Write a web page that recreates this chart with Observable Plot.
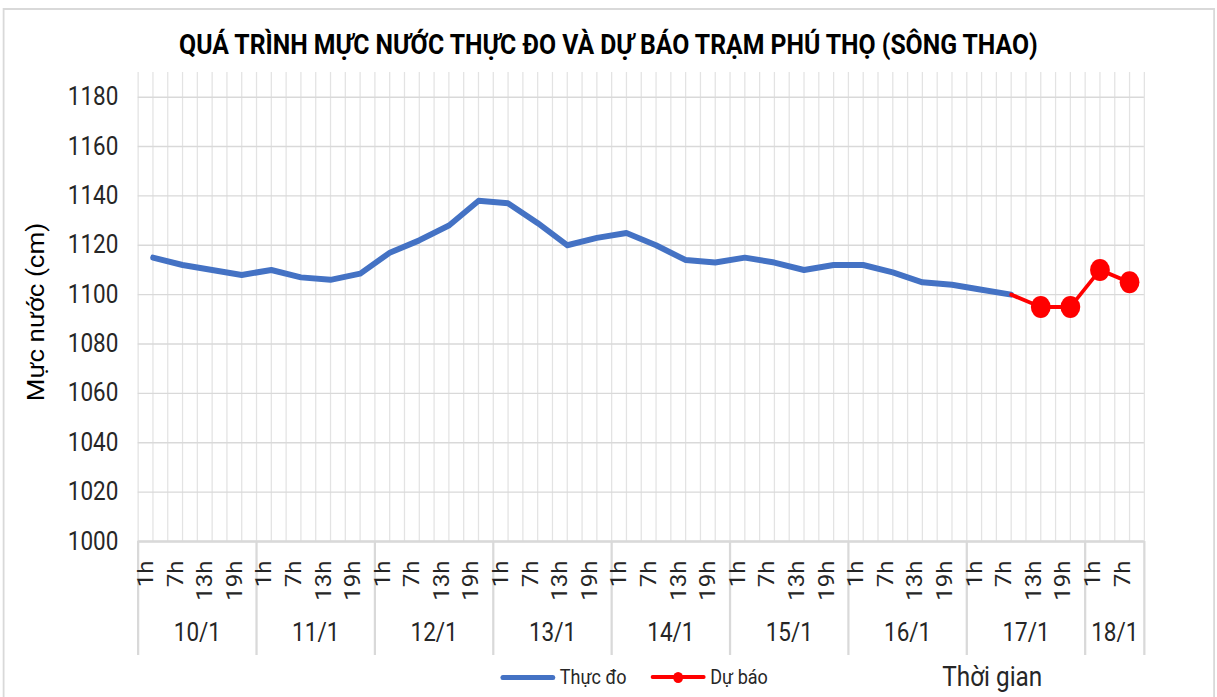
<!DOCTYPE html>
<html>
<head>
<meta charset="utf-8">
<script src="https://cdn.jsdelivr.net/npm/d3@7"></script>
<script src="https://cdn.jsdelivr.net/npm/@observablehq/plot@0.6"></script>
<style>
html, body { margin: 0; padding: 0; background: #fff; overflow: hidden; }
#wrap { position: relative; width: 1352px; height: 697px; transform: scaleX(0.9); transform-origin: 0 0;
        font-family: Roboto, "Liberation Sans", sans-serif; color: #262626; }
#frame { position: absolute; left: 3px; top: 8px; right: 2px; bottom: -10px; border: 2px solid #d9d9d9; }
#title { position: absolute; left: 0; width: 100%; top: 29px; text-align: center; font-weight: bold;
         font-size: 27.5px; line-height: 32px; color: #000; }
#chart { position: absolute; left: 0; top: 0; }
#legend { position: absolute; left: 556px; top: 664px; height: 26px; display: flex; align-items: center; font-size: 20px; }
.sw { position: relative; width: 61px; height: 5px; border-radius: 3px; margin-right: 5px; }
.sw .dot { position: absolute; left: 25px; top: -3px; width: 11px; height: 11px; border-radius: 50%; background: #ff0000; }
#xtitle { position: absolute; left: 1047px; top: 664px; font-size: 27px; line-height: 27px; }
</style>
</head>
<body>
<div id="wrap">
  <div id="frame"></div>
  <div id="title"></div>
  <div id="chart"></div>
  <div id="legend"></div>
  <div id="xtitle"></div>
</div>
<script>
// ---- data ----
const titleText = "QUÁ TRÌNH MỰC NƯỚC THỰC ĐO VÀ DỰ BÁO TRẠM PHÚ THỌ (SÔNG THAO)";
const yLabel = "Mực nước (cm)";
const xLabel = "Thời gian";
const seriesNames = ["Thực đo", "Dự báo"];
const days = ["10/1", "11/1", "12/1", "13/1", "14/1", "15/1", "16/1", "17/1", "18/1"];
const hours = ["1h", "7h", "13h", "19h"];
const slotsPerDay = [4, 4, 4, 4, 4, 4, 4, 4, 2];
const observed = [1115, 1112, 1110, 1108,
                  1110, 1107, 1106, 1108.5,
                  1117, 1122, 1128, 1138,
                  1137, 1129, 1120, 1123,
                  1125, 1120, 1114, 1113,
                  1115, 1113, 1110, 1112,
                  1112, 1109, 1105, 1104,
                  1102, 1100];
const forecast = [1100, 1095, 1095, 1110, 1105];
const yTicks = [1000, 1020, 1040, 1060, 1080, 1100, 1120, 1140, 1160, 1180];
const yMax = 1190;

// ---- derived tables ----
const slots = days.flatMap((d, di) => hours.slice(0, slotsPerDay[di]).map(h => ({day: d, hour: h})));
slots.forEach((s, i) => s.i = i);
const obsData = observed.map((v, i) => ({i, v}));
const fcStart = observed.length - 1;
const fcData = forecast.map((v, k) => ({i: fcStart + k, v}));
const halfSteps = d3.range(-0.5, slots.length, 0.5);
const dayGroups = d3.groups(slots, s => s.day).map(([day, ss]) => ({day, c: d3.mean(ss, s => s.i), end: d3.max(ss, s => s.i) + 0.5}));
const dayBounds = [-0.5, ...dayGroups.map(g => g.end)];

const blue = "#4472C4", red = "#FF0000", grid = "#d9d9d9";

document.getElementById("title").textContent = titleText;
document.getElementById("xtitle").textContent = xLabel;
document.getElementById("legend").innerHTML =
  `<div class="sw" style="background:${blue}"></div><span style="margin-right:27px">${seriesNames[0]}</span>` +
  `<div class="sw" style="background:${red};height:4px"><div class="dot"></div></div><span>${seriesNames[1]}</span>`;

const chart = Plot.plot({
  width: 1352, height: 697,
  marginTop: 72, marginBottom: 156, marginLeft: 153, marginRight: 81,
  style: {background: "transparent", fontFamily: "Roboto, 'Liberation Sans', sans-serif", color: "#262626", overflow: "visible"},
  x: {domain: [-0.5, slots.length - 0.5], axis: null},
  y: {domain: [yTicks[0], yMax], axis: null},
  marks: [
    Plot.gridX(halfSteps, {stroke: "#e3e3e3", strokeOpacity: 1, strokeWidth: 1.4}),
    Plot.gridY(yTicks, {stroke: grid, strokeOpacity: 1, strokeWidth: 1.4}),
    Plot.ruleY([yTicks[0]], {stroke: grid, strokeWidth: 2.5}),
    Plot.axisY(yTicks, {tickSize: 0, tickPadding: 22, fontSize: 25, label: null, tickFormat: d => String(d)}),
    Plot.axisX(dayBounds, {tickSize: 114, tickFormat: () => "", label: null, stroke: grid, strokeWidth: 2.5}),
    Plot.text(slots, {x: "i", text: "hour", frameAnchor: "bottom", rotate: -90, textAnchor: "end", dy: 19, fontSize: 24}),
    Plot.text(dayGroups, {x: "c", text: "day", frameAnchor: "bottom", dy: 99, fontSize: 25}),
    Plot.text([yLabel], {frameAnchor: "left", textAnchor: "middle", rotate: -90, dx: -113, dy: 5, fontSize: 26, fill: "#000"}),
    Plot.line(obsData, {x: "i", y: "v", stroke: blue, strokeWidth: 6}),
    Plot.line(fcData, {x: "i", y: "v", stroke: red, strokeWidth: 4}),
    Plot.dot(fcData.slice(1), {x: "i", y: "v", r: 11, fill: red})
  ]
});
document.getElementById("chart").appendChild(chart);
</script>
</body>
</html>
